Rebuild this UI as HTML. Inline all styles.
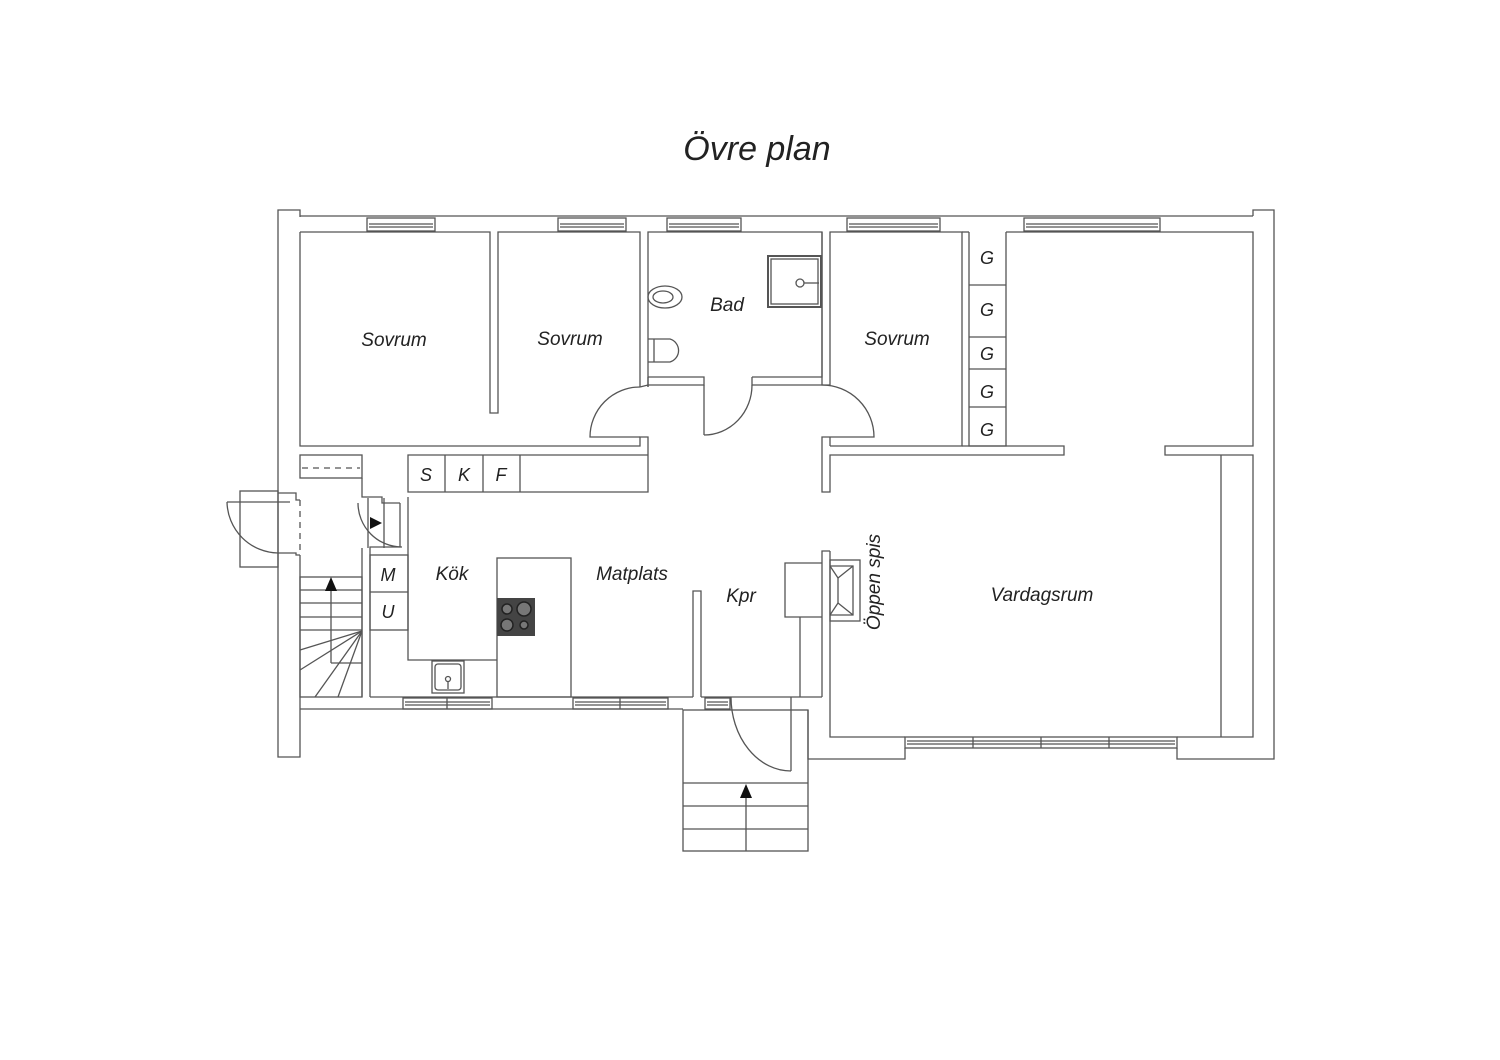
<!DOCTYPE html>
<html><head><meta charset="utf-8"><style>
html,body{margin:0;padding:0;background:#fff;}
svg{display:block;}
text{font-family:"Liberation Sans",sans-serif;font-style:italic;fill:#222;}
</style></head><body>
<svg width="1500" height="1060" viewBox="0 0 1500 1060" xmlns="http://www.w3.org/2000/svg">
<rect width="1500" height="1060" fill="#fff"/>
<text x="757" y="160" font-size="34" text-anchor="middle" fill="#222">Övre plan</text>
<g fill="none" stroke="#555" stroke-width="1.3">
<!-- outer left wall -->
<polyline points="300,217 300,210 278,210 278,757 300,757 300,709"/>
<line x1="300" y1="216" x2="1253" y2="216"/>
<polyline points="1253,216 1253,210 1274,210 1274,759 1177,759 1177,748"/>
<polyline points="905,748 905,759 808,759 808,710"/>
<!-- top windows -->
<rect x="367" y="218" width="68" height="13"/><line x1="369" y1="224" x2="433" y2="224"/><line x1="369" y1="227" x2="433" y2="227"/>
<rect x="558" y="218" width="68" height="13"/><line x1="560" y1="224" x2="624" y2="224"/><line x1="560" y1="227" x2="624" y2="227"/>
<rect x="667" y="218" width="74" height="13"/><line x1="669" y1="224" x2="739" y2="224"/><line x1="669" y1="227" x2="739" y2="227"/>
<rect x="847" y="218" width="93" height="13"/><line x1="849" y1="224" x2="938" y2="224"/><line x1="849" y1="227" x2="938" y2="227"/>
<rect x="1024" y="218" width="136" height="13"/><line x1="1026" y1="224" x2="1158" y2="224"/><line x1="1026" y1="227" x2="1158" y2="227"/>
<!-- Sovrum 1 & 2 -->
<polyline points="300,232 490,232 490,413 498,413 498,232 640,232 640,387"/>
<polyline points="300,232 300,446 640,446 640,437 648,437 648,455 408,455 408,492 648,492 648,455"/>
<line x1="445" y1="455" x2="445" y2="492"/><line x1="483" y1="455" x2="483" y2="492"/><line x1="520" y1="455" x2="520" y2="492"/>
<!-- door sovrum2 -->
<path d="M640,437 L590,437 A50,50 0 0 1 640,387"/>
<!-- Bad -->
<polyline points="648,387 648,232 822,232 822,377 752,377"/>
<polyline points="640,387 648,385 704,385 704,377 648,377"/>
<line x1="648" y1="377" x2="648" y2="387"/>
<polyline points="704,385 704,435"/>
<path d="M704,435 A48,50 0 0 0 752,385"/>
<polyline points="752,377 752,385 822,385"/>
<!-- Sovrum3 -->
<polyline points="822,232 822,385 830,385 830,232 962,232 962,446 830,446"/>
<path d="M822,385 A52,52 0 0 1 874,437 L822,437 L822,492 830,492 830,455 1064,455 1064,446 962,446"/>
<line x1="830" y1="437" x2="830" y2="446"/>
<!-- G -->
<polyline points="969,232 969,446 1006,446 1006,232"/>
<line x1="969" y1="285" x2="1006" y2="285"/><line x1="969" y1="337" x2="1006" y2="337"/><line x1="969" y1="369" x2="1006" y2="369"/><line x1="969" y1="407" x2="1006" y2="407"/>
<line x1="962" y1="232" x2="969" y2="232"/>
<polyline points="1006,232 1253,232 1253,446 1165,446 1165,455 1253,455 1253,737 1177,737"/>
<line x1="1221" y1="455" x2="1221" y2="737"/>
<!-- Vardagsrum -->
<polyline points="830,551 830,737 905,737"/>
<rect x="905" y="737" width="272" height="11"/><line x1="907" y1="741" x2="1175" y2="741"/><line x1="907" y1="744" x2="1175" y2="744"/>
<line x1="973" y1="737" x2="973" y2="748"/><line x1="1041" y1="737" x2="1041" y2="748"/><line x1="1109" y1="737" x2="1109" y2="748"/>
<!-- fireplace -->
<polyline points="822,697 822,551 830,551"/>
<polyline points="822,563 785,563 785,617 822,617"/>
<line x1="800" y1="617" x2="800" y2="697"/>
<rect x="830" y="560" width="30" height="61"/>
<polyline points="830,566 853,566 853,615 830,615"/>
<line x1="830" y1="566" x2="838" y2="578"/><line x1="853" y1="566" x2="838" y2="578"/><line x1="830" y1="615" x2="838" y2="603"/><line x1="853" y1="615" x2="838" y2="603"/><polyline points="838,578 838,603"/>
<!-- Kpr wall -->
<polyline points="693,697 693,591 701,591 701,697"/>
<!-- bottom wall -->
<polyline points="370,697 693,697"/>
<polyline points="701,697 800,697 800,697 822,697"/>
<polyline points="300,709 683,709"/>
<rect x="403" y="698" width="89" height="11"/><line x1="405" y1="702" x2="490" y2="702"/><line x1="405" y1="705" x2="490" y2="705"/><line x1="447" y1="698" x2="447" y2="709"/>
<rect x="573" y="698" width="95" height="11"/><line x1="575" y1="702" x2="666" y2="702"/><line x1="575" y1="705" x2="666" y2="705"/><line x1="620" y1="698" x2="620" y2="709"/>
<rect x="705" y="698" width="25" height="11"/><line x1="707" y1="702" x2="728" y2="702"/><line x1="707" y1="705" x2="728" y2="705"/>
<!-- entry stairs -->
<rect x="683" y="710" width="125" height="141"/>
<line x1="683" y1="783" x2="808" y2="783"/><line x1="683" y1="806" x2="808" y2="806"/><line x1="683" y1="829" x2="808" y2="829"/>
<line x1="746" y1="795" x2="746" y2="851"/>
<line x1="791" y1="697" x2="791" y2="771"/>
<path d="M731,697 A60,74 0 0 0 791,771"/>
<!-- left hall -->
<rect x="300" y="455" width="62" height="23"/>
<line x1="302" y1="468" x2="360" y2="468" stroke-dasharray="6,5"/>
<polyline points="362,478 362,497 382,497 382,503 400,503"/>
<line x1="300" y1="500" x2="300" y2="555" stroke="#fff" stroke-width="3"/>
<line x1="300" y1="500" x2="300" y2="555" stroke-dasharray="6,5"/>
<polyline points="300,500 296,500 296,493 278,493"/>
<polyline points="300,555 296,555 296,553 278,553"/>
<rect x="240" y="491" width="38" height="76"/>
<path d="M227,502 L290,502 M227,502 A52,52 0 0 0 278,553"/>
<!-- small door -->
<polyline points="400,503 400,547 370,547 370,697"/>
<line x1="368" y1="498" x2="368" y2="548"/><line x1="384" y1="498" x2="384" y2="548"/>
<path d="M358,503 A44,44 0 0 0 402,547"/>
<polyline points="362,548 362,697"/>
<!-- left stairs -->
<rect x="300" y="577" width="62" height="120"/>
<line x1="300" y1="590" x2="362" y2="590"/><line x1="300" y1="603" x2="362" y2="603"/><line x1="300" y1="617" x2="362" y2="617"/><line x1="300" y1="630" x2="362" y2="630"/>
<line x1="331" y1="590" x2="331" y2="663"/><line x1="331" y1="663" x2="362" y2="663"/>
<line x1="362" y1="631" x2="300" y2="650"/><line x1="362" y1="631" x2="300" y2="670"/><line x1="362" y1="631" x2="315" y2="697"/><line x1="362" y1="631" x2="338" y2="697"/>
<line x1="300" y1="555" x2="300" y2="709"/>
<!-- kitchen -->
<rect x="370" y="555" width="38" height="75"/><line x1="370" y1="592" x2="408" y2="592"/>
<polyline points="408,497 408,660 497,660"/>
<rect x="497" y="558" width="74" height="139"/>
<rect x="432" y="661" width="32" height="32"/><rect x="435" y="664" width="26" height="26" rx="3"/>
<circle cx="448" cy="679" r="2.5"/><line x1="448" y1="681" x2="448" y2="689"/>
<!-- bad fixtures -->
<ellipse cx="665" cy="297" rx="17" ry="11"/><ellipse cx="663" cy="297" rx="10" ry="6"/>
<path d="M648,339 L670,339 A12,12 0 0 1 670,362 L648,362"/><line x1="654" y1="339" x2="654" y2="362"/>
<rect x="768" y="256" width="53" height="51" stroke-width="2"/><rect x="771" y="259" width="47" height="45"/>
<circle cx="800" cy="283" r="4"/><line x1="804" y1="283" x2="819" y2="283"/>
</g>
<rect x="497" y="598" width="38" height="38" fill="#444"/>
<g fill="#777" stroke="#222" stroke-width="1.5">
<circle cx="507" cy="609" r="5"/><circle cx="524" cy="609" r="7"/><circle cx="507" cy="625" r="6"/><circle cx="524" cy="625" r="4"/>
</g>
<polygon points="746,784 740,798 752,798" fill="#111"/>
<polygon points="331,577 325,591 337,591" fill="#111"/>
<polygon points="382,523 370,517 370,529" fill="#111"/>
<g font-size="19">
<text x="394" y="346" text-anchor="middle">Sovrum</text>
<text x="570" y="345" text-anchor="middle">Sovrum</text>
<text x="727" y="311" text-anchor="middle">Bad</text>
<text x="897" y="345" text-anchor="middle">Sovrum</text>
<text x="452" y="580" text-anchor="middle">Kök</text>
<text x="632" y="580" text-anchor="middle">Matplats</text>
<text x="741" y="602" text-anchor="middle">Kpr</text>
<text x="1042" y="601" text-anchor="middle">Vardagsrum</text>
<text x="888" y="590" text-anchor="middle" transform="rotate(-90 880 590)">Öppen spis</text>
</g>
<g font-size="18" text-anchor="middle">
<text x="426" y="481">S</text><text x="464" y="481">K</text><text x="501" y="481">F</text>
<text x="388" y="581">M</text><text x="388" y="618">U</text>
<text x="987" y="264">G</text><text x="987" y="316">G</text><text x="987" y="360">G</text><text x="987" y="398">G</text><text x="987" y="436">G</text>
</g>
</svg>
</body></html>
